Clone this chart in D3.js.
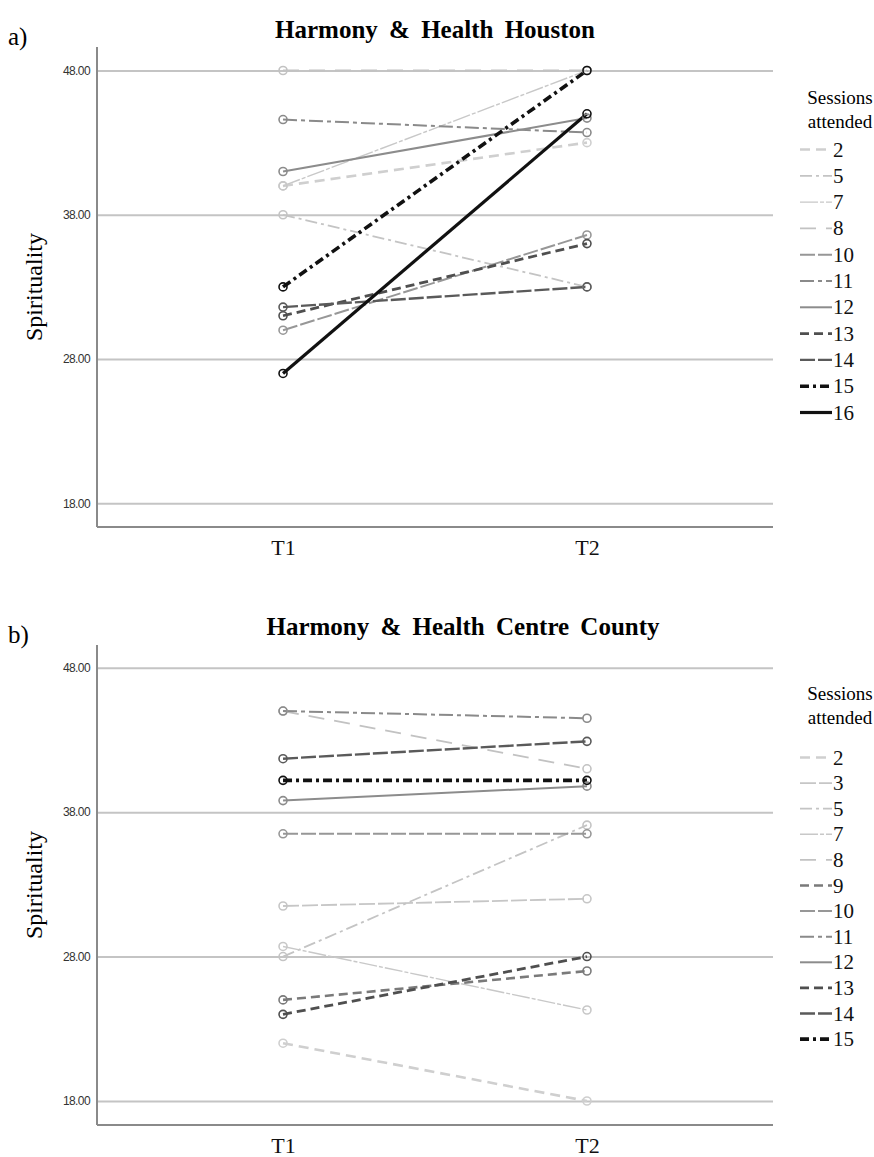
<!DOCTYPE html>
<html>
<head>
<meta charset="utf-8">
<script src="https://cdn.jsdelivr.net/npm/d3@7"></script>
<style>
  html, body { margin: 0; padding: 0; background: #fff; }
  svg { display: block; }
  .serif { font-family: "Liberation Serif", "Times New Roman", serif; }
  .sans { font-family: "Liberation Sans", Arial, sans-serif; }
</style>
</head>
<body>
<svg id="chart" width="874" height="1157"></svg>
<script>
// ---- Data ----
const timepoints = ["T1", "T2"];
const yTicks = [18, 28, 38, 48];

const houstonSessions = [2, 5, 7, 8, 10, 11, 12, 13, 14, 15, 16];
const houstonT1 = [40.0, 38.0, 40.0, 48.0, 30.0, 44.6, 41.0, 31.0, 31.6, 33.0, 27.0];
const houstonT2 = [43.0, 33.0, 48.0, 48.0, 36.6, 43.7, 44.7, 36.0, 33.0, 48.0, 45.0];

const centreSessions = [2, 3, 5, 7, 8, 9, 10, 11, 12, 13, 14, 15];
const centreT1 = [22.0, 31.5, 28.0, 28.7, 45.0, 25.0, 36.5, 45.0, 38.8, 24.0, 41.7, 40.2];
const centreT2 = [18.0, 32.0, 37.1, 24.3, 41.0, 27.0, 36.5, 44.5, 39.8, 28.0, 42.9, 40.2];

// ---- Styles by sessions attended ----
const styles = {
  2:  { color: "#cfcfcf", width: 2.6, dash: "10,6" },
  3:  { color: "#c6c6c6", width: 1.8, dash: "16,3" },
  5:  { color: "#c4c4c4", width: 1.8, dash: "12,4,3,4" },
  7:  { color: "#c8c8c8", width: 1.4, dash: "18,2,4,2" },
  8:  { color: "#c2c2c2", width: 1.8, dash: "16,10" },
  9:  { color: "#7a7a7a", width: 2.6, dash: "9,5" },
  10: { color: "#979797", width: 2.0, dash: "15,3" },
  11: { color: "#8a8a8a", width: 2.0, dash: "14,4,4,4" },
  12: { color: "#8c8c8c", width: 2.0, dash: null },
  13: { color: "#4f4f4f", width: 2.8, dash: "9,5" },
  14: { color: "#5a5a5a", width: 2.4, dash: "15,3" },
  15: { color: "#111111", width: 3.6, dash: "9,4,3,4" },
  16: { color: "#111111", width: 3.2, dash: null }
};

const svg = d3.select("#chart");

function drawPanel(cfg) {
  const g = svg.append("g");
  const x = d3.scalePoint().domain(timepoints).range([cfg.left, cfg.right]).padding(0.612);
  const y = d3.scaleLinear().domain([18, 48]).range([cfg.y18, cfg.y48]);

  // panel letter
  g.append("text").attr("class", "serif").attr("x", 8).attr("y", cfg.letterY)
    .style("font-size", "25px").text(cfg.letter);

  // title
  g.append("text").attr("class", "serif").attr("x", cfg.titleX).attr("y", cfg.titleY).attr("text-anchor", "middle")
    .style("font-size", "25px").style("font-weight", "bold")
    .style("word-spacing", "5px")
    .text(cfg.title);

  // gridlines
  const grid = g.append("g").attr("transform", `translate(${cfg.left},0)`)
    .call(d3.axisLeft(y).tickValues(yTicks).tickSize(-(cfg.right - cfg.left)).tickFormat(""));
  grid.select(".domain").remove();
  grid.selectAll(".tick line").attr("stroke", "#c4c4c4").attr("stroke-width", 2);

  // tick labels
  const yAxis = g.append("g").attr("transform", `translate(${cfg.left},0)`)
    .call(d3.axisLeft(y).tickValues(yTicks).tickSize(0).tickPadding(7).tickFormat(d3.format(".2f")));
  yAxis.select(".domain").remove();
  yAxis.attr("font-family", null);
  yAxis.selectAll(".tick text").attr("class", "sans").style("font-size", "12px")
    .attr("fill", "#333").style("letter-spacing", "-0.6px");

  // axis lines
  g.append("line").attr("x1", cfg.left).attr("x2", cfg.left).attr("y1", cfg.axisTop).attr("y2", cfg.axisBottom)
    .attr("stroke", "#8a8a8a").attr("stroke-width", 2);
  g.append("line").attr("x1", cfg.left).attr("x2", cfg.right).attr("y1", cfg.axisBottom).attr("y2", cfg.axisBottom)
    .attr("stroke", "#8a8a8a").attr("stroke-width", 2);

  // x tick labels
  const xAxis = g.append("g").attr("transform", `translate(0,${cfg.axisBottom})`)
    .call(d3.axisBottom(x).tickSize(0).tickPadding(12));
  xAxis.select(".domain").remove();
  xAxis.attr("font-family", null);
  xAxis.selectAll(".tick text").attr("class", "serif").style("font-size", "22px").attr("fill", "#111");

  // y title
  const cy = (cfg.axisTop + cfg.axisBottom) / 2;
  g.append("text").attr("class", "serif").attr("transform", `translate(42,${cy}) rotate(-90)`).attr("text-anchor", "middle")
    .style("font-size", "24px").text("Spirituality");

  // lines
  const rows = cfg.sessions.map((s, i) => ({ s, v: [cfg.t1[i], cfg.t2[i]] }));
  const line = d3.line().x((d, i) => x(timepoints[i])).y(d => y(d));
  const lg = g.append("g");
  rows.forEach(r => {
    const st = styles[r.s];
    lg.append("path").attr("d", line(r.v)).attr("fill", "none")
      .attr("stroke", st.color).attr("stroke-width", st.width)
      .attr("stroke-dasharray", st.dash);
  });
  rows.forEach(r => {
    const st = styles[r.s];
    r.v.forEach((v, i) => {
      lg.append("circle").attr("cx", x(timepoints[i])).attr("cy", y(v)).attr("r", 4)
        .attr("fill", "none").attr("stroke", st.color).attr("stroke-width", 1.6);
    });
  });

  // legend
  const leg = g.append("g");
  leg.append("text").attr("class", "serif").attr("x", 840).attr("y", cfg.legTitleY).attr("text-anchor", "middle")
    .style("font-size", "19px").text("Sessions");
  leg.append("text").attr("class", "serif").attr("x", 840).attr("y", cfg.legTitleY + 24).attr("text-anchor", "middle")
    .style("font-size", "19px").text("attended");
  cfg.sessions.forEach((s, i) => {
    const st = styles[s];
    const yy = cfg.legStart + i * cfg.legStep;
    leg.append("line").attr("x1", 800).attr("x2", 832).attr("y1", yy).attr("y2", yy)
      .attr("stroke", st.color).attr("stroke-width", st.width).attr("stroke-dasharray", st.dash);
    leg.append("text").attr("class", "serif").attr("x", 833).attr("y", yy + 7)
      .style("font-size", "21px").attr("fill", "#111").text(s);
  });
}

drawPanel({
  letter: "a)", letterY: 45, title: "Harmony & Health Houston", titleX: 435, titleY: 38,
  left: 97, right: 773, y18: 503.3, y48: 70.5, axisTop: 47, axisBottom: 527,
  sessions: houstonSessions, t1: houstonT1, t2: houstonT2,
  legTitleY: 104, legStart: 149.5, legStep: 26.3
});

drawPanel({
  letter: "b)", letterY: 643, title: "Harmony & Health Centre County", titleX: 463, titleY: 635,
  left: 97, right: 773, y18: 1101, y48: 667.7, axisTop: 645, axisBottom: 1125,
  sessions: centreSessions, t1: centreT1, t2: centreT2,
  legTitleY: 700, legStart: 757.5, legStep: 25.6
});
</script>
</body>
</html>
